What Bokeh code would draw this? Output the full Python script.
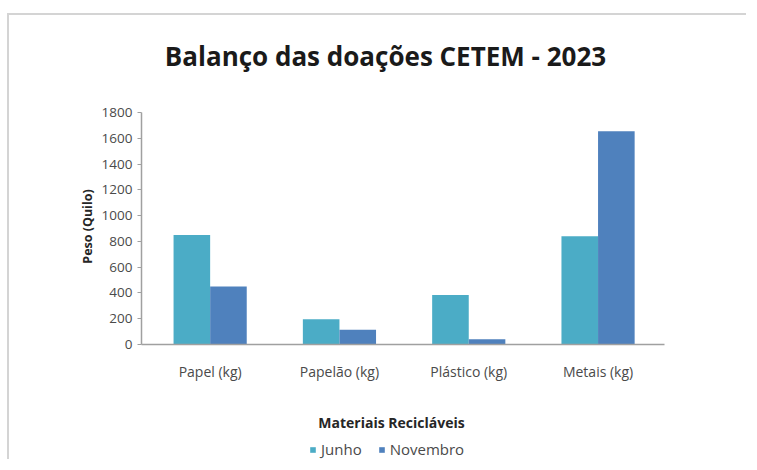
import math
from bokeh.plotting import figure
from bokeh.models import (ColumnDataSource, Range1d, FixedTicker, Label, Legend, LegendItem)
from bokeh.embed import file_html
from bokeh.resources import INLINE

categories = ["Papel (kg)", "Papelão (kg)", "Plástico (kg)", "Metais (kg)"]
junho = [850, 195, 385, 840]
novembro = [450, 115, 40, 1655]
y_ticks = [0, 200, 400, 600, 800, 1000, 1200, 1400, 1600, 1800]
series_names = ["Junho", "Novembro"]
colors = ["#4BACC6", "#4F81BD"]

FONT = "Open Sans"

# canvas / layout geometry (page pixels)
CAN_L, CAN_T, W, H = 10, 16, 739, 446
PX0, UX = 146.0, 129.3          # page x of category-axis origin, px per category
PY0, UY = 345.0, 232.0 / 1800   # page y of value 0, px per unit


def px2x(px):
    return (px - PX0) / UX


def py2y(py):
    return (PY0 - py) / UY


centers = [i + 0.5 for i in range(len(categories))]
bw = 0.283

src = ColumnDataSource(dict(
    xj=[c - bw / 2 for c in centers],
    xn=[c + bw / 2 for c in centers],
    junho=junho, novembro=novembro))

p = figure(width=W, height=H, output_backend="svg", toolbar_location=None,
           x_range=Range1d(px2x(CAN_L), px2x(CAN_L + W)),
           y_range=Range1d(py2y(CAN_T + H), py2y(CAN_T)),
           min_border=0)
p.styles = {"border-top": "2px solid #d4d4d4", "border-left": "2px solid #d4d4d4",
            "margin-top": "13px", "margin-left": "7px"}
p.background_fill_color = "white"
p.border_fill_color = "white"
p.outline_line_color = None
p.grid.visible = False

r1 = p.vbar(x="xj", top="junho", width=bw, source=src, fill_color=colors[0], line_color=None)
r2 = p.vbar(x="xn", top="novembro", width=bw, source=src, fill_color=colors[1], line_color=None)

# x axis (placed at value 0)
p.xaxis.fixed_location = 0
p.xaxis.bounds = (px2x(142), px2x(665))
p.xaxis.ticker = FixedTicker(ticks=centers)
p.xaxis.major_label_overrides = {c: lab for c, lab in zip(centers, categories)}
p.xaxis.major_tick_line_color = None
p.xaxis.minor_tick_line_color = None
p.xaxis.axis_line_color = "#a0a0a0"
p.xaxis.axis_line_width = 1.5
p.xaxis.major_label_text_font = FONT
p.xaxis.major_label_text_font_size = "14px"
p.xaxis.major_label_text_color = "#4a4a4a"
p.xaxis.major_label_standoff = 11

# y axis (placed at category origin)
p.yaxis.fixed_location = px2x(142)
p.yaxis.bounds = (0, 1800)
p.yaxis.ticker = FixedTicker(ticks=y_ticks)
p.yaxis.minor_tick_line_color = None
p.yaxis.major_tick_in = 0
p.yaxis.major_tick_out = 4
p.yaxis.major_tick_line_color = "#a0a0a0"
p.yaxis.axis_line_color = "#a0a0a0"
p.yaxis.axis_line_width = 1.5
p.yaxis.major_label_text_font = FONT
p.yaxis.major_label_text_font_size = "13.5px"
p.yaxis.major_label_text_color = "#4a4a4a"
p.yaxis.major_label_standoff = 5

# texts
p.add_layout(Label(x=px2x(386), y=py2y(56), text="Balanço das doações CETEM - 2023",
                   text_align="center", text_baseline="alphabetic", text_font=FONT,
                   text_font_size="26px", text_font_style="bold", text_color="#1a1a1a"))
p.add_layout(Label(x=px2x(392), y=py2y(423), text="Materiais Recicláveis",
                   text_align="center", text_baseline="alphabetic", text_font=FONT,
                   text_font_size="14px", text_font_style="bold", text_color="#262626"))
p.add_layout(Label(x=px2x(88), y=py2y(227), text="Peso (Quilo)", angle=math.pi / 2,
                   text_align="center", text_baseline="middle", text_font=FONT,
                   text_font_size="12.5px", text_font_style="bold", text_color="#262626"))

legend = Legend(items=[LegendItem(label=series_names[0], renderers=[r1]),
                       LegendItem(label=series_names[1], renderers=[r2])],
                orientation="horizontal", location=(310 - CAN_L, CAN_T + H - 460),
                margin=0, padding=0, spacing=16, label_standoff=5,
                glyph_width=7, glyph_height=7, label_height=18,
                label_text_font=FONT, label_text_font_size="15px", label_text_color="#4a4a4a",
                border_line_color=None, background_fill_alpha=0)
p.add_layout(legend, "center")

open("out.html", "w").write(file_html(p, INLINE))
